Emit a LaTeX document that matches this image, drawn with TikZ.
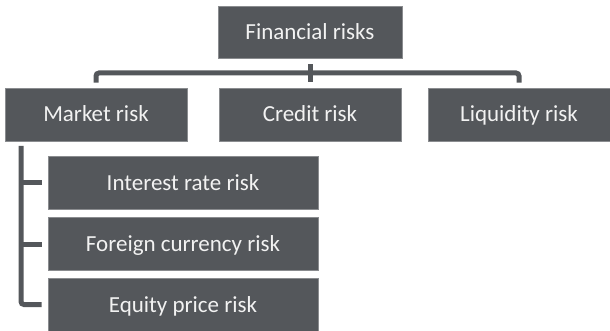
\documentclass[tikz,border=0pt]{standalone}
\usepackage{fontspec}
\setmainfont{Carlito}
\definecolor{boxgrey}{HTML}{54575B}
\definecolor{txtgrey}{HTML}{F2F2F2}
\definecolor{edgegrey}{HTML}{8A8C8F}
\begin{document}
\begin{tikzpicture}[x=1pt,y=1pt,
  riskbox/.style={fill=boxgrey,draw=edgegrey,line width=0.6pt,text=txtgrey,inner sep=0pt,
    minimum width=#1,minimum height=53pt,font=\fontsize{23}{27}\selectfont,
    text height=15pt,text depth=0pt},
  conn/.style={draw=boxgrey,line width=5pt}]
\useasboundingbox (0,0) rectangle (610,-331);
\node[riskbox=184pt,minimum height=52pt] (fin) at (310,-32) {Financial risks};
\node[riskbox=182pt] (mkt) at (96,-114.5) {Market risk};
\node[riskbox=182pt] (cred) at (310,-114.5) {Credit risk};
\node[riskbox=182pt] (liq) at (519,-114.5) {Liquidity risk};
\node[riskbox=270pt] (ir) at (183,-182.5) {Interest rate risk};
\node[riskbox=270pt] (fx) at (183,-244) {Foreign currency risk};
\node[riskbox=270pt] (eq) at (183,-304.5) {Equity price risk};
\coordinate (bar) at (310,-73);
\coordinate (lt) at (21,-146);
\draw[conn,rounded corners=3pt] ([yshift=5pt]mkt.north) |- (bar) -| ([yshift=5pt]liq.north);
\draw[conn] ([yshift=-6pt]fin.south) -- ([yshift=6pt]cred.north);
\draw[conn,rounded corners=3pt] (lt) |- ([xshift=-6pt]eq.west);
\draw[conn] (lt |- ir.west) -- ([xshift=-6pt]ir.west);
\draw[conn] (lt |- fx.west) -- ([xshift=-6pt]fx.west);
\end{tikzpicture}
\end{document}
